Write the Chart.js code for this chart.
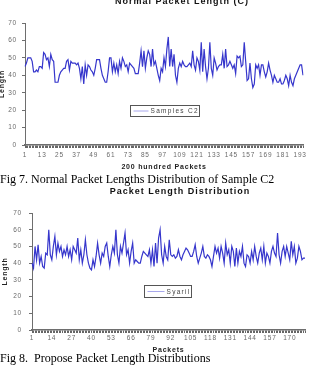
<!DOCTYPE html>
<html>
<head>
<meta charset="utf-8">
<script src="https://cdn.jsdelivr.net/npm/chart.js@4"></script>
<style>
  html, body { margin: 0; padding: 0; background: #fff; }
  #page { position: relative; width: 312px; height: 371px; overflow: hidden; }
  .box { position: absolute; left: 0; width: 312px; }
  .ttl { position: absolute; transform: translate(-50%, -50%); white-space: nowrap;
         font: bold 9px "Liberation Sans", Arial, sans-serif; letter-spacing: 1px; color: #111; }
  .cap { position: absolute; left: 0; transform: translateY(-50%); white-space: nowrap;
         font: 12px "Liberation Serif", "Times New Roman", serif; color: #000; }
</style>
</head>
<body>
<div id="page">
  <div class="box" style="top:0;height:172px"><canvas id="c1" width="312" height="172"></canvas></div>
  <div class="box" style="top:196px;height:158px"><canvas id="c2" width="312" height="158"></canvas></div>
  <div class="ttl" style="left:182px;top:1px">Normal Packet Length (C)</div>
  <div class="cap" style="top:179px">Fig 7. Normal Packet Lengths Distribution of Sample C2</div>
  <div class="ttl" style="left:180px;top:191px">Packet Length Distribution</div>
  <div class="cap" style="top:358px">Fig 8.&nbsp; Propose Packet Length Distributions</div>
</div>
<script>
// packet lengths
var samplesC2 = [
  45, 47, 50, 50, 50, 48, 42, 42, 43, 42,
  45, 45, 44, 53, 52, 49, 50, 45, 52, 49,
  48, 36, 36, 36, 40, 42, 43, 44, 44, 48,
  49, 43, 48, 47, 47, 47, 46, 47, 44, 38,
  45, 35, 46, 40, 46, 45, 43, 42, 40, 44,
  49, 49, 49, 44, 40, 38, 36, 36, 42, 50,
  50, 42, 47, 42, 46, 41, 48, 44, 50, 48,
  45, 46, 42, 47, 46, 45, 44, 41, 41, 41,
  47, 54, 45, 54, 44, 50, 54, 52, 45, 55,
  46, 48, 44, 40, 37, 44, 42, 50, 45, 55,
  62, 45, 55, 45, 52, 40, 36, 44, 47, 45,
  48, 46, 45, 45, 46, 47, 45, 54, 46, 43,
  50, 48, 43, 59, 42, 55, 45, 38, 44, 59,
  44, 40, 50, 47, 43, 45, 46, 46, 52, 44,
  55, 45, 46, 48, 46, 44, 46, 41, 51, 50,
  51, 45, 46, 59, 48, 37, 38, 47, 38, 33,
  35, 46, 44, 46, 40, 46, 46, 42, 39, 42,
  47, 43, 40, 36, 40, 38, 36, 36, 38, 35,
  35, 37, 40, 38, 34, 40, 36, 34, 38, 40,
  42, 44, 46, 46, 40
];
var syaril = [
  40, 37, 50, 42, 51, 40, 44, 38, 37, 46,
  45, 60, 45, 42, 50, 56, 45, 52, 47, 50,
  44, 48, 45, 50, 44, 48, 42, 50, 48, 46,
  55, 42, 48, 40, 45, 54, 45, 40, 37, 36,
  42, 38, 44, 52, 45, 40, 46, 44, 50, 52,
  44, 38, 45, 50, 46, 60, 45, 40, 50, 46,
  52, 58, 45, 48, 40, 47, 52, 40, 42, 41,
  40, 40, 44, 47, 46, 45, 44, 48, 40, 48,
  38, 52, 40, 55, 60, 45, 40, 50, 44, 42,
  54, 45, 44, 45, 43, 44, 48, 44, 42, 45,
  47, 49, 48, 46, 44, 44, 47, 51, 44, 40,
  43, 46, 50, 44, 43, 45, 44, 42, 38, 44,
  50, 46, 49, 43, 50, 46, 40, 52, 45, 48,
  40, 50, 47, 38, 49, 40, 47, 44, 50, 40,
  38, 45, 44, 40, 47, 42, 50, 44, 40, 46,
  49, 42, 50, 40, 46, 44, 40, 47, 50, 46,
  44, 58, 45, 40, 47, 50, 44, 50, 46, 42,
  53, 45, 50, 40, 43, 50, 47, 42, 43, 43
];
// packet numbers on the x axis, one label every 12 / 13 packets
var packets1 = samplesC2.map(function (v, i) { return String(i + 1); });
var packets2 = syaril.map(function (v, i) { return String(i + 1); });
var labelStep1 = 12;
var labelStep2 = 13;
var yTicks = [0, 10, 20, 30, 40, 50, 60, 70];

var axisGrey = '#6e6e6e';
var textGrey = '#6a6a6a';

// spaced-out lettering like the old Excel export
var spacing = {
  id: 'spacing',
  beforeLayout: function (chart) { chart.ctx.letterSpacing = '0.8px'; },
  beforeDraw: function (chart) { chart.ctx.letterSpacing = '0.8px'; }
};

// framed legend sitting inside the plot
var boxLegend = {
  id: 'boxLegend',
  afterDatasetsDraw: function (chart, args, opts) {
    var ctx = chart.ctx, area = chart.chartArea;
    var ds = chart.data.datasets[0];
    ctx.save();
    ctx.font = '6.5px "Liberation Sans", Arial, sans-serif';
    ctx.letterSpacing = '1.3px';
    var tw = ctx.measureText(ds.label).width;
    var w = Math.round(3 + opts.line + 2 + tw + 1), h = opts.h;
    var x = Math.round((area.left + area.right) / 2 - w / 2 + opts.dx) + 0.5;
    var y = Math.round(chart.scales.y.getPixelForValue(opts.at) - h / 2) + 0.5;
    ctx.fillStyle = '#fff';
    ctx.fillRect(x, y, w, h);
    ctx.strokeStyle = '#555';
    ctx.lineWidth = 1;
    ctx.strokeRect(x, y, w, h);
    ctx.strokeStyle = '#a8a8ec';
    ctx.beginPath();
    ctx.moveTo(x + 3, y + h / 2);
    ctx.lineTo(x + 3 + opts.line, y + h / 2);
    ctx.stroke();
    ctx.fillStyle = '#444';
    ctx.textBaseline = 'middle';
    ctx.fillText(ds.label, x + 3 + opts.line + 2, y + h / 2 + 0.5);
    ctx.restore();
  }
};

function makeChart(id, labels, values, name, step, cfg) {
  return new Chart(id, {
    type: 'line',
    data: {
      labels: labels,
      datasets: [{
        label: name,
        data: values,
        borderColor: '#3636cc',
        borderWidth: 1.2,
        pointRadius: 0,
        tension: 0,
        fill: false
      }]
    },
    options: {
      responsive: false,
      animation: false,
      layout: { padding: { top: cfg.top, right: cfg.right, left: 0, bottom: 0 } },
      plugins: {
        legend: { display: false },
        title: { display: false },
        tooltip: { enabled: false },
        boxLegend: cfg.legend
      },
      scales: {
        x: {
          offset: false,
          afterFit: function (s) { s.height = cfg.xh; },
          grid: { drawOnChartArea: false, tickLength: 3, color: '#666' },
          border: { color: axisGrey, width: 1.5 },
          ticks: {
            autoSkip: false, maxRotation: 0, minRotation: 0, padding: cfg.xpad,
            color: textGrey, font: { size: 6.5, family: '"Liberation Sans", Arial' },
            callback: function (v, i) { return i % step === 0 ? labels[i] : ''; }
          },
          title: {
            display: true, text: cfg.xtitle, color: '#222',
            font: { size: 7, weight: 'bold', family: '"Liberation Sans", Arial' },
            padding: { top: 0, bottom: cfg.xtpad }
          }
        },
        y: {
          min: yTicks[0], max: yTicks[yTicks.length - 1],
          afterFit: function (s) { s.width = cfg.yw; },
          afterBuildTicks: function (s) { s.ticks = yTicks.map(function (v) { return { value: v }; }); },
          grid: { drawOnChartArea: false, tickLength: 3, color: axisGrey },
          border: { color: axisGrey },
          ticks: {
            padding: cfg.ypad, color: textGrey,
            font: { size: 6.5, family: '"Liberation Sans", Arial' }
          },
          title: {
            display: true, text: 'Length', color: '#222',
            font: { size: 7, weight: 'bold', family: '"Liberation Sans", Arial' },
            padding: { top: cfg.ytpad, bottom: 0 }
          }
        }
      }
    },
    plugins: [spacing, boxLegend]
  });
}

makeChart('c1', packets1, samplesC2, 'Samples C2', labelStep1, {
  top: 23, right: 9, xh: 27, xpad: 3, xtpad: 0.8, yw: 25, ypad: 5, ytpad: -2,
  xtitle: '200 hundred Packets',
  legend: { at: 20, line: 15, h: 11, dx: 0 }
});
makeChart('c2', packets2, syaril, 'Syaril', labelStep2, {
  top: 17, right: 7, xh: 24, xpad: 1.5, xtpad: 0, yw: 32, ypad: 7, ytpad: 1,
  xtitle: 'Packets',
  legend: { at: 23.6, line: 17, h: 12, dx: -1 }
});
</script>
</body>
</html>
